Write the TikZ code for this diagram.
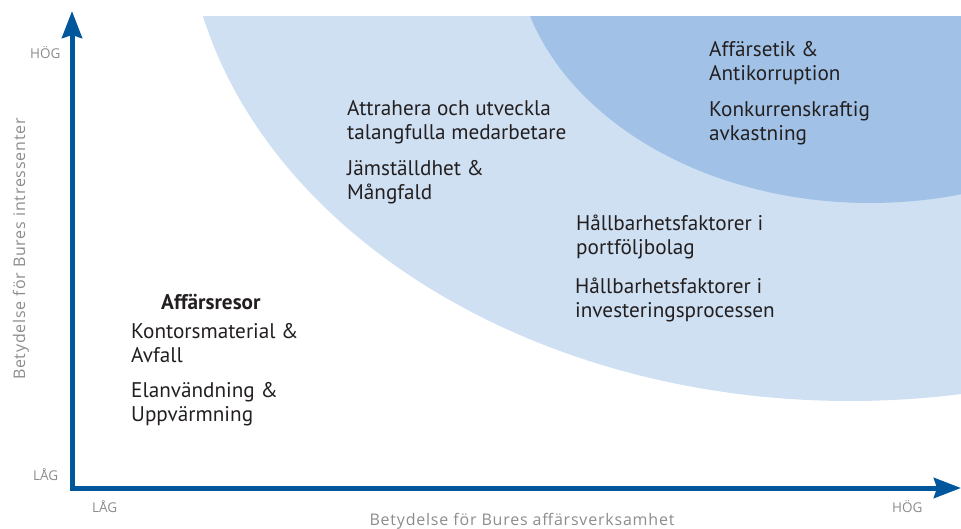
\documentclass[tikz,border=0pt]{standalone}
\usepackage{fontspec}
\setmainfont{PT Sans}
\newfontfamily\axisfont[LetterSpace=5]{Open Sans}
\newfontfamily\ticfont{Open Sans}
\usetikzlibrary{arrows.meta}
\definecolor{lightreg}{RGB}{207,224,242}
\definecolor{darkreg}{RGB}{161,194,230}
\definecolor{axisblue}{RGB}{0,87,155}
\definecolor{txt}{RGB}{35,31,32}
\definecolor{graytxt}{RGB}{140,140,140}
\tikzset{
  item/.style={anchor=base west, inner sep=0pt, align=left, text=txt,
    font=\fontsize{21.2}{24}\selectfont},
  axlabel/.style={anchor=base west, inner sep=0pt, text=graytxt,
    font=\ticfont\fontsize{13.5}{16}\selectfont},
  axtitle/.style={inner sep=0pt, text=graytxt,
    font=\axisfont\fontsize{16}{18}\selectfont},
  axisline/.style={draw=axisblue, line width=5pt, line join=miter,
    {Stealth[length=27pt,width=20pt,inset=3pt]}-{Stealth[length=27pt,width=20pt,inset=3pt]}}
}
\begin{document}
\begin{tikzpicture}[x=1pt,y=-1pt]
\useasboundingbox (0,0) rectangle (961,529);
% regions
\begin{scope}
  \clip (0,17) rectangle (961,529);
  \fill[lightreg] (850,-100) ellipse [x radius=665, y radius=501];
  \fill[darkreg] (870,-60) ellipse [x radius=355, y radius=263];
\end{scope}
% axes
\coordinate (ytip) at (72,11);
\coordinate (corner) at (72,488);
\coordinate (xtip) at (961,488);
\draw[axisline] (ytip) -- (corner) -- (xtip);
% axis labels
\node[axlabel] (yhi) at (30,59) {HÖG};
\node[axlabel] (ylo) at (33,480) {LÅG};
\node[axlabel] (xlo) at (92,512) {LÅG};
\node[axlabel] (xhi) at (892,512) {HÖG};
\node[axtitle, anchor=base] (xtitle) at (522,525) {Betydelse för Bures affärsverksamhet};
\node[axtitle, rotate=90, anchor=base] (ytitle) at (25,249) {Betydelse för Bures intressenter};
% items (anchored at the baseline of their last line)
\node[item] (a1) at (709,81) {Affärsetik \&\\Antikorruption};
\node[item] (a2) at (709,141) {Konkurrenskraftig\\avkastning};
\node[item] (b1) at (347,140) {Attrahera och utveckla\\talangfulla medarbetare};
\node[item] (b2) at (347,200) {Jämställdhet \&\\Mångfald};
\node[item] (c1) at (576,255) {Hållbarhetsfaktorer i\\portföljbolag};
\node[item] (c2) at (575,317) {Hållbarhetsfaktorer i\\investeringsprocessen};
\node[item, font=\bfseries\fontsize{21.2}{24}\selectfont] (d0) at (161,309) {Affärsresor};
\node[item] (d1) at (131,362) {Kontorsmaterial \&\\Avfall};
\node[item] (d2) at (131,421) {Elanvändning \&\\Uppvärmning};
\end{tikzpicture}
\end{document}
